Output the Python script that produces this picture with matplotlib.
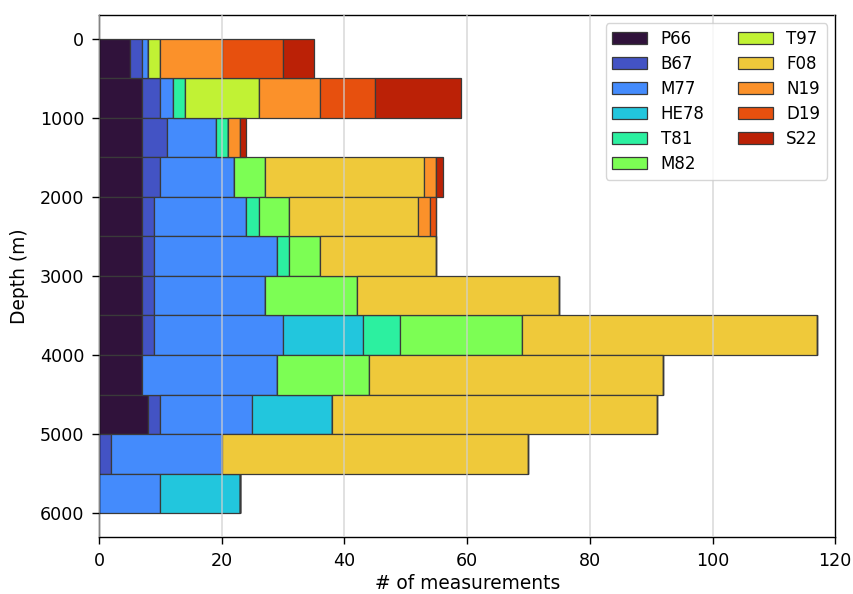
import numpy as np
import matplotlib
matplotlib.use("Agg")
import matplotlib.pyplot as plt

depths = [0, 500, 1000, 1500, 2000, 2500, 3000, 3500, 4000, 4500, 5000, 5500]
series_names = ["P66", "B67", "M77", "HE78", "T81", "M82", "T97", "F08", "N19", "D19", "S22"]
colors = ["#30123b", "#4353c4", "#448bfc", "#22c6dd", "#2cf0a0", "#7cfe54",
          "#c1f234", "#efc93a", "#fb912a", "#e7500e", "#bb2106"]

P66 = [5, 7, 7, 7, 7, 7, 7, 7, 7, 8, 0, 0]
B67 = [2, 3, 4, 3, 2, 2, 2, 2, 0, 2, 2, 0]
M77 = [1, 2, 8, 12, 15, 20, 18, 21, 22, 15, 18, 10]
HE78 = [0, 0, 0, 0, 0, 0, 0, 13, 0, 13, 0, 13]
T81 = [0, 2, 2, 0, 2, 2, 0, 6, 0, 0, 0, 0]
M82 = [0, 0, 0, 5, 5, 5, 15, 20, 15, 0, 0, 0]
T97 = [2, 12, 0, 0, 0, 0, 0, 0, 0, 0, 0, 0]
F08 = [0, 0, 0, 26, 21, 19, 33, 48, 48, 53, 50, 0]
N19 = [10, 10, 2, 2, 2, 0, 0, 0, 0, 0, 0, 0]
D19 = [10, 9, 0, 0, 1, 0, 0, 0, 0, 0, 0, 0]
S22 = [5, 14, 1, 1, 0, 0, 0, 0, 0, 0, 0, 0]

series = [P66, B67, M77, HE78, T81, M82, T97, F08, N19, D19, S22]

fig, ax = plt.subplots(figsize=(8.54, 5.94), dpi=100)
fig.subplots_adjust(left=0.116, right=0.978, top=0.975, bottom=0.096)

left = np.zeros(len(depths))
for name, vals, c in zip(series_names, series, colors):
    vals = np.array(vals, dtype=float)
    ax.barh(depths, vals, height=500, left=left, align="edge", color=c,
            edgecolor="#3a3a3a", linewidth=0.9, label=name, zorder=2)
    left += vals

ax.set_xlim(0, 120)
ax.invert_yaxis()
ax.set_yticks([0, 1000, 2000, 3000, 4000, 5000, 6000])
ax.set_xticks([0, 20, 40, 60, 80, 100, 120])
ax.tick_params(labelsize=12.6, length=5, width=1.0, pad=5.5)
for s in ax.spines.values():
    s.set_linewidth(1.0)
ax.grid(axis="x", color="#d0d0d0", linewidth=1.3, alpha=0.7, zorder=3)
ax.set_axisbelow(False)
ax.set_xlabel("# of measurements", fontsize=13.4, labelpad=3.5)
ax.set_ylabel("Depth (m)", fontsize=13.4, labelpad=8)
leg = ax.legend(loc="upper right", ncol=2, fontsize=12, handlelength=2.1,
                columnspacing=2.0, labelspacing=0.42)
leg.set_zorder(5)

fig.savefig("out.png", dpi=100)
